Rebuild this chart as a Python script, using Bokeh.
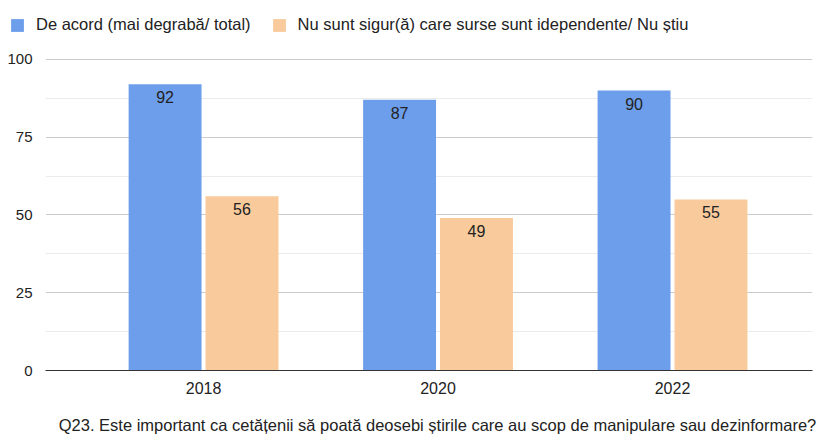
from bokeh.plotting import figure
from bokeh.layouts import column
from bokeh.models import (Range1d, FixedTicker, Legend, LegendItem, Label,
                          ColumnDataSource, LabelSet)
from bokeh.core.properties import value
from bokeh.embed import file_html
from bokeh.resources import INLINE
import numpy as np

years = ["2018", "2020", "2022"]
agree = [92, 87, 90]
unsure = [56, 49, 55]
series_names = ["De acord (mai degrabă/ total)",
                "Nu sunt sigur(ă) care surse sunt idependente/ Nu știu"]
title_text = ("Q23. Este important ca cetățenii să poată deosebi știrile care au "
              "scop de manipulare sau dezinformare?")
y_ticks = [0, 25, 50, 75, 100]

FONT = "Liberation Sans"
BLUE = "#6d9eeb"
ORANGE = "#f9cb9c"
TXT = "#222222"

x = np.arange(len(years))
off = 0.164
bw = 0.311
src = ColumnDataSource(dict(
    xa=x - off, xb=x + off, agree=agree, unsure=unsure,
    la=[str(v) for v in agree], lb=[str(v) for v in unsure]))

# ---- legend strip (own small figure so it can start at the left edge) ----
lf = figure(width=822, height=40, output_backend="svg", toolbar_location=None,
            x_range=Range1d(0, 1), y_range=Range1d(200, 201),
            x_axis_type=None, y_axis_type=None, min_border=0,
            frame_align=False)
lf.outline_line_color = None
lf.grid.grid_line_color = None
lra = lf.vbar(x="xa", top="agree", width=bw, source=src, fill_color=BLUE,
              line_color=None)
lrb = lf.vbar(x="xb", top="unsure", width=bw, source=src, fill_color=ORANGE,
              line_color=None)
legend = Legend(items=[LegendItem(label=series_names[0], renderers=[lra]),
                       LegendItem(label=series_names[1], renderers=[lrb])],
                orientation="horizontal", location=(9, 6),
                label_text_font=FONT, label_text_font_size="16.5px",
                label_text_color=TXT, glyph_width=16, glyph_height=16,
                label_standoff=11, spacing=20, padding=0, margin=0,
                border_line_color=None, background_fill_alpha=0)
lf.add_layout(legend, "center")

# ---- main chart ----
p = figure(width=822, height=360, output_backend="svg", toolbar_location=None,
           x_range=Range1d(-0.674, 2.597), y_range=Range1d(0, 100.3),
           min_border_left=45, min_border_right=10, min_border_top=18,
           min_border_bottom=30, frame_align=False)
p.outline_line_color = None

ra = p.vbar(x="xa", top="agree", width=bw, source=src, fill_color=BLUE,
            line_color=None)
rb = p.vbar(x="xb", top="unsure", width=bw, source=src, fill_color=ORANGE,
            line_color=None)

for col, lab, top in (("xa", "la", "agree"), ("xb", "lb", "unsure")):
    p.add_layout(LabelSet(x=col, y=top, text=lab, source=src,
                          text_align="center", text_baseline="middle",
                          y_offset=-13, text_font=value(FONT),
                          text_font_size="16px", text_color=TXT))

minor = [(a + b) / 2 for a, b in zip(y_ticks[:-1], y_ticks[1:])]
p.yaxis.ticker = FixedTicker(ticks=y_ticks, minor_ticks=minor)
p.yaxis.axis_line_color = None
p.yaxis.major_tick_line_color = None
p.yaxis.minor_tick_line_color = None
p.yaxis.major_label_standoff = 7
p.yaxis.major_label_text_font = FONT
p.yaxis.major_label_text_font_size = "15px"
p.yaxis.major_label_text_color = TXT

p.xaxis.ticker = FixedTicker(ticks=list(x))
p.xaxis.major_label_overrides = {int(i): y for i, y in zip(x, years)}
p.xaxis.axis_line_color = "#333333"
p.xaxis.axis_line_width = 1
p.xaxis.major_tick_line_color = None
p.xaxis.minor_tick_line_color = None
p.xaxis.major_label_standoff = 5
p.xaxis.major_label_text_font = FONT
p.xaxis.major_label_text_font_size = "16px"
p.xaxis.major_label_text_color = TXT

p.xgrid.grid_line_color = None
p.ygrid.grid_line_color = "#cccccc"
p.ygrid.minor_grid_line_color = "#ebebeb"

# ---- title strip ----
tf = figure(width=822, height=37, output_backend="svg", toolbar_location=None,
            x_range=Range1d(0, 1), y_range=Range1d(0, 1),
            x_axis_type=None, y_axis_type=None, min_border=0,
            frame_align=False)
tf.outline_line_color = None
tf.grid.grid_line_color = None
tf.add_layout(Label(x=437, y=13, x_units="screen", y_units="screen",
                    text=title_text, text_align="center",
                    text_baseline="middle", text_font=FONT,
                    text_font_size="16.5px", text_color=TXT))

layout = column(lf, p, tf, spacing=0)
open("out.html", "w").write(file_html(layout, INLINE))
